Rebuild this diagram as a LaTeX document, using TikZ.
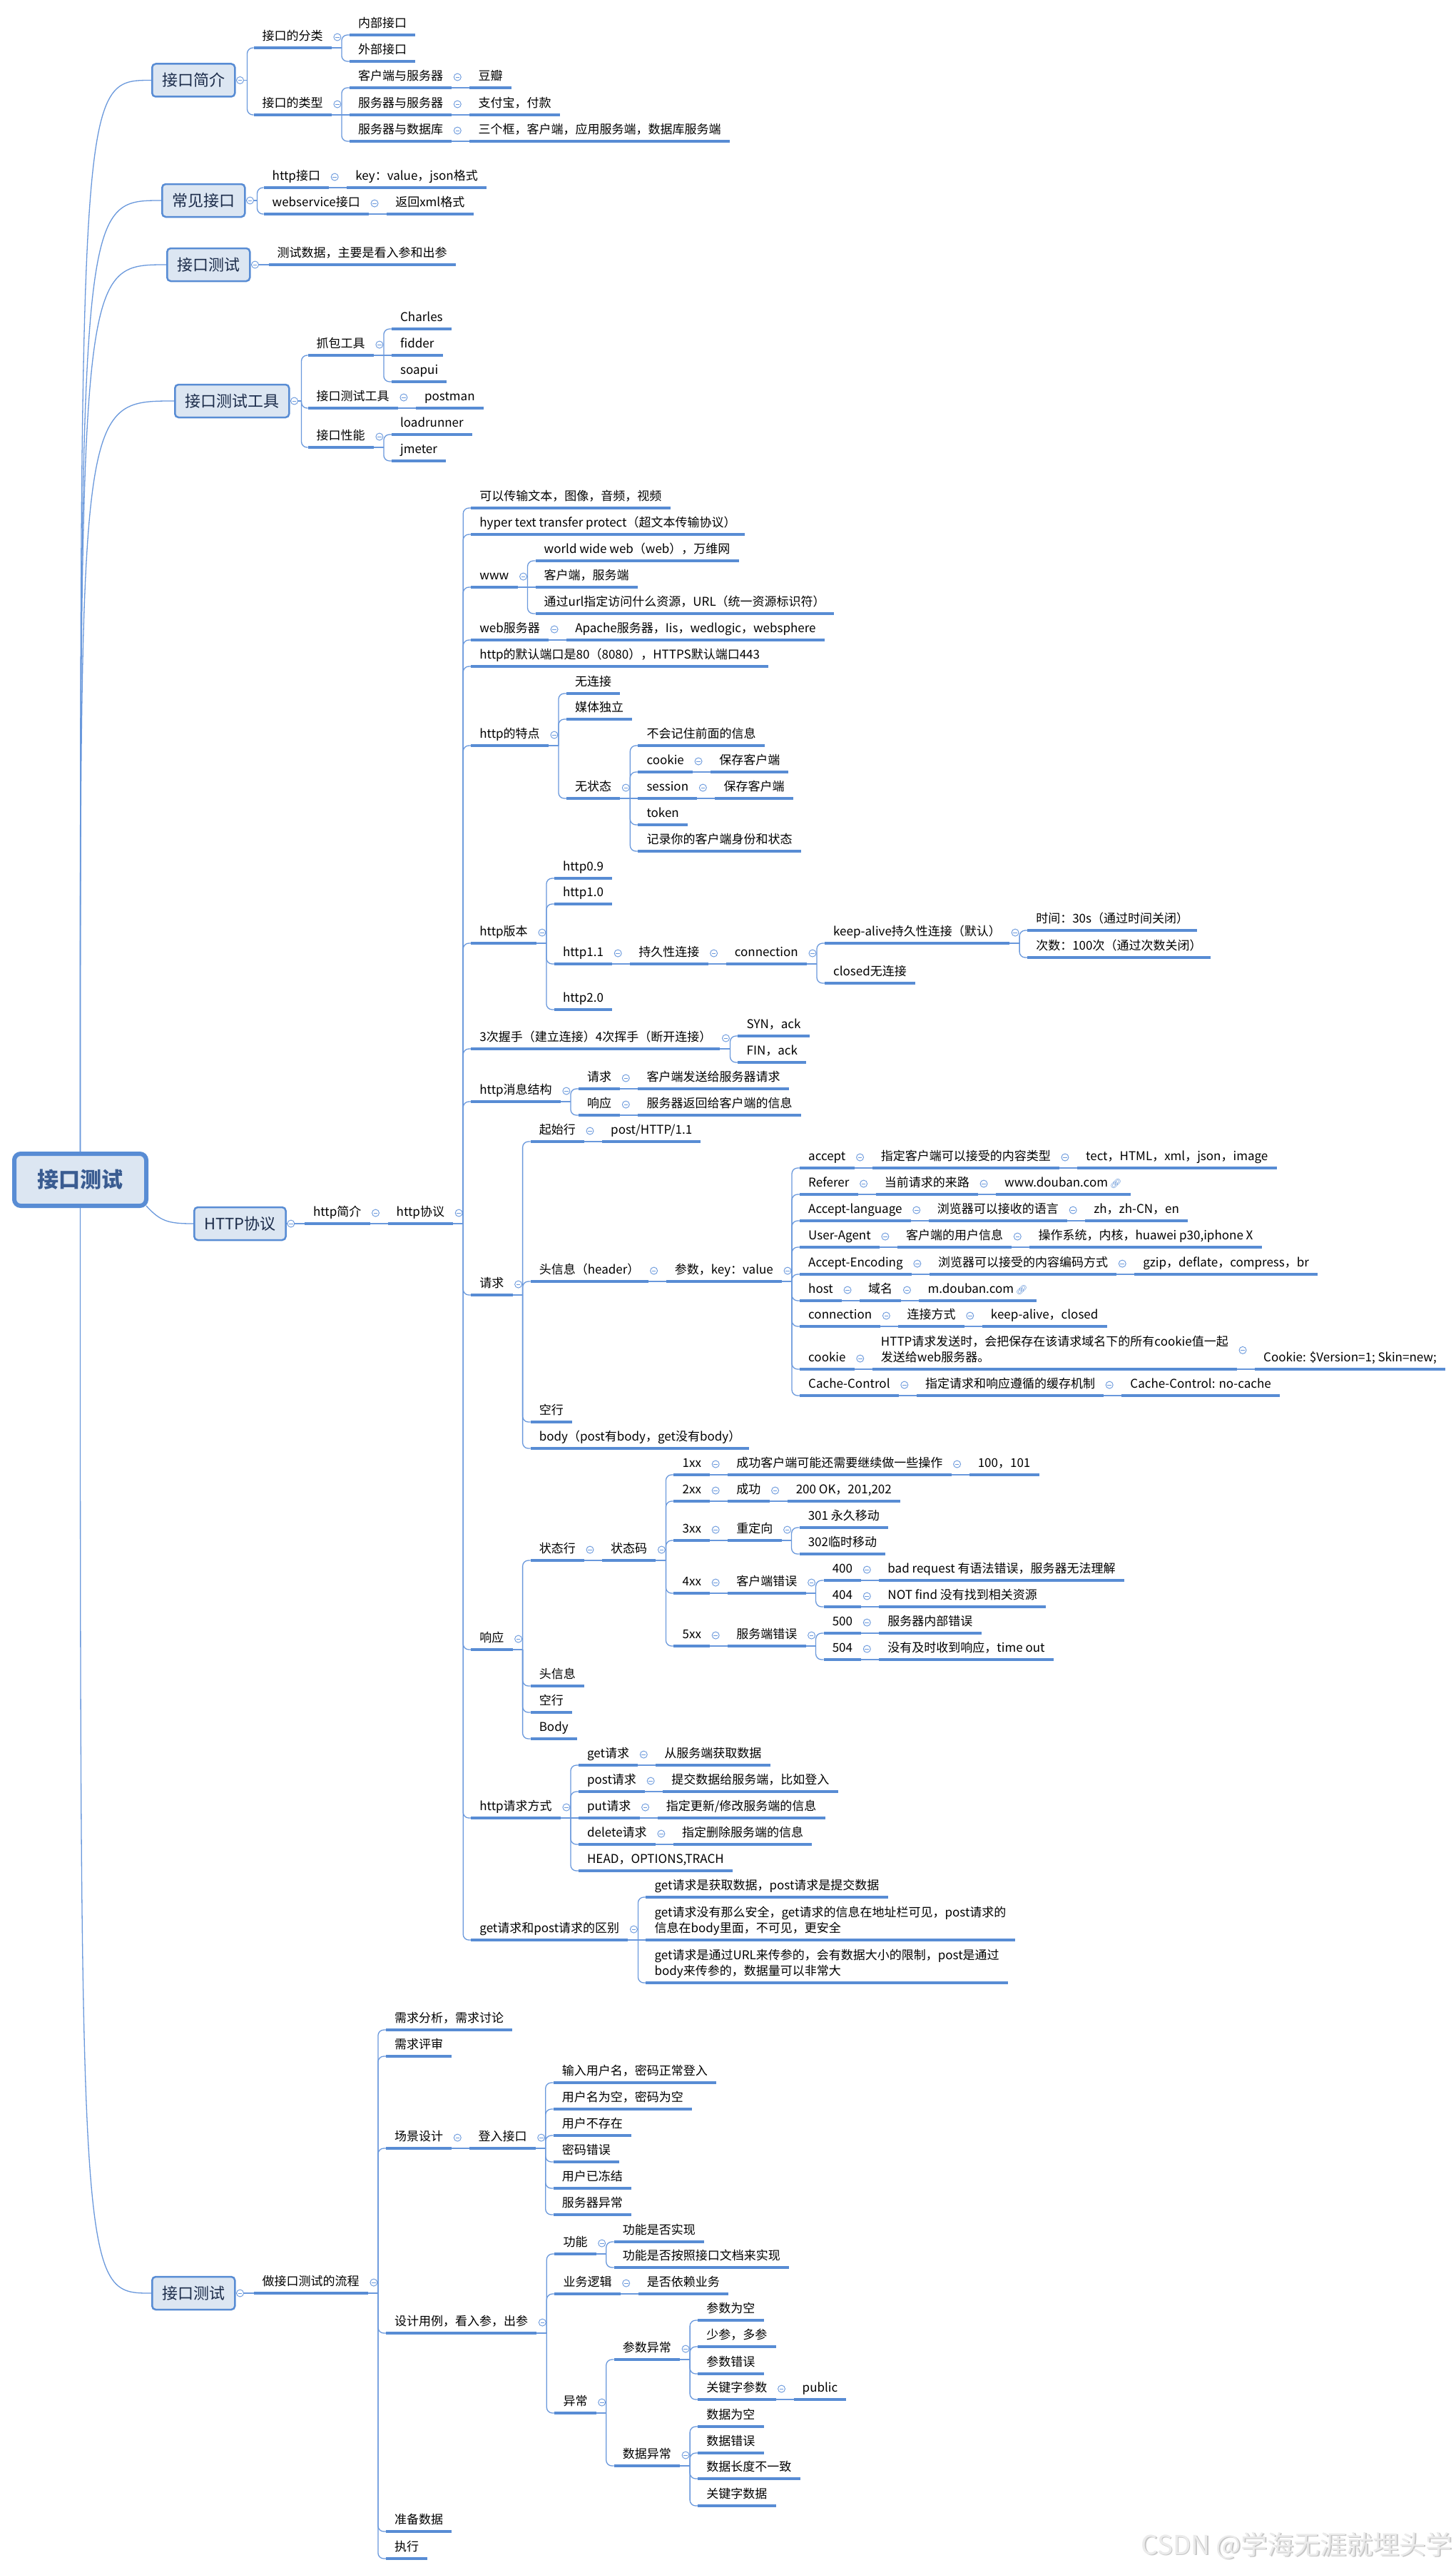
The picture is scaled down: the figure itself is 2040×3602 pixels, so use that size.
\documentclass[tikz,border=0pt]{standalone}
\usepackage{fontspec}
\setmainfont{Noto Sans CJK SC}
\newfontfamily\emoji{Noto Emoji}
\definecolor{ulc}{RGB}{88,140,212}
\definecolor{lnc}{RGB}{105,152,220}
\definecolor{boxfill}{RGB}{220,230,242}
\definecolor{boxtext}{RGB}{28,44,74}
\definecolor{roottext}{RGB}{58,92,145}
\newcommand\fsm{\fontsize{17pt}{22pt}\selectfont}
\newcommand\fbx{\fontsize{22pt}{26pt}\selectfont}
\newcommand\frt{\fontsize{30pt}{34pt}\selectfont\bfseries}
\newcommand\lnk{{\emoji\fontsize{13pt}{13pt}\selectfont\color{ulc}🔗}}
\tikzset{
 topic/.style={font=\fsm, text height=13pt, text depth=4.5pt, inner xsep=12pt, inner ysep=6pt, anchor=south west},
 topictwo/.style={font=\fsm, align=left, text depth=4.5pt, inner xsep=12pt, inner ysep=6pt, anchor=south west},
 conn/.style={draw=lnc, line width=1.3pt},
 uline/.style={draw=ulc, line width=3.5pt},
 box/.style={draw=ulc, line width=2.5pt, fill=boxfill, rounded corners=5pt, font=\fbx, text=boxtext, inner xsep=14pt, minimum height=46pt, anchor=west},
 rootbox/.style={draw=ulc, line width=6pt, fill=boxfill, rounded corners=9pt, font=\frt, text=roottext, minimum width=185pt, minimum height=73pt},
 collapse/.style={circle, draw=lnc, fill=white, line width=0.9pt, minimum size=10pt, inner sep=0pt,
   path picture={\draw[lnc, line width=0.9pt] ([xshift=-2.8pt]path picture bounding box.center) -- ([xshift=2.8pt]path picture bounding box.center);}}
}
\newcommand\kid[5][topic]{%
  \path (#3.east) ++(25pt,0pt) coordinate (#2-o);
  \node[#1] (#2) at (#2-o |- 0,#4) {#5};
  \draw[uline] (#2.south west) -- (#2.south east);
}
\newcommand\spine[1]{%
  \draw[conn] (#1.south east) -- ++(14pt,0pt) coordinate (#1-s);
  \node[collapse] at ([xshift=8pt]#1.east) {};
}
\newcommand\bspine[1]{%
  \draw[conn] (#1.east) -- ++(16pt,0pt) coordinate (#1-s);
  \node[collapse] at ([xshift=6pt]#1.east) {};
}
\newcommand\ed[2]{\draw[conn, rounded corners=8pt] (#1-s) |- (#2.south west);}
\newcommand\sed[2]{\draw[conn] (#1-s) -- (#2.south west);}
\newcommand\chain[2]{\spine{#1}\sed{#1}{#2}}
\begin{document}
\begin{tikzpicture}[x=1pt,y=-1pt]
\fill[white] (0,0) rectangle (2040,3602);
\useasboundingbox (0,0) rectangle (2040,3602);

% root and main branches
\node[rootbox] (root) at (112.5,1653.5) {接口测试};
\node[box] (b1) at (212,112.5) {接口简介};
\node[box] (b2) at (226,281) {常见接口};
\node[box] (b3) at (233,371) {接口测试};
\node[box] (b4) at (244,562) {接口测试工具};
\node[box] (b5) at (271,1715) {HTTP协议};
\node[box] (b6) at (212,3214) {接口测试};

\draw[conn] (root.north) .. controls (root.north |- b1.west) .. (b1.west);
\draw[conn] (root.north) .. controls (root.north |- b2.west) .. (b2.west);
\draw[conn] (root.north) .. controls (root.north |- b3.west) .. (b3.west);
\draw[conn] (root.north) .. controls (root.north |- b4.west) .. (b4.west);
\draw[conn] (root.south) .. controls (root.south |- b6.west) .. (b6.west);
\draw[conn] ([xshift=-3pt,yshift=3pt]root.south east) .. controls +(20,22) and +(-35,0) .. (b5.west);

% 接口简介
\kid{a1}{b1}{67}{接口的分类}
\kid{a2}{b1}{161}{接口的类型}
\kid{a11}{a1}{49}{内部接口}
\kid{a12}{a1}{86}{外部接口}
\kid{a21}{a2}{123}{客户端与服务器}
\kid{a22}{a2}{161}{服务器与服务器}
\kid{a23}{a2}{198}{服务器与数据库}
\kid{a211}{a21}{123}{豆瓣}
\kid{a221}{a22}{161}{支付宝，付款}
\kid{a231}{a23}{198}{三个框，客户端，应用服务端，数据库服务端}

% 常见接口
\kid{c1}{b2}{263}{http接口}
\kid{c2}{b2}{300}{webservice接口}
\kid{c11}{c1}{263}{key：value，json格式}
\kid{c21}{c2}{300}{返回xml格式}

% 接口测试
\kid{d1}{b3}{371}{测试数据，主要是看入参和出参}

% 接口测试工具
\kid{e1}{b4}{498}{抓包工具}
\kid{e2}{b4}{572}{接口测试工具}
\kid{e3}{b4}{627}{接口性能}
\kid{e11}{e1}{461}{Charles}
\kid{e12}{e1}{498}{fidder}
\kid{e13}{e1}{535}{soapui}
\kid{e21}{e2}{572}{postman}
\kid{e31}{e3}{609}{loadrunner}
\kid{e32}{e3}{646}{jmeter}

% HTTP协议
\kid{h0}{b5}{1715}{http简介}
\kid{h}{h0}{1715}{http协议}
\kid{h1}{h}{712}{可以传输文本，图像，音频，视频}
\kid{h2}{h}{749}{hyper text transfer protect（超文本传输协议）}
\kid{h3}{h}{823}{www}
\kid{h31}{h3}{786}{world wide web（web），万维网}
\kid{h32}{h3}{823}{客户端，服务端}
\kid{h33}{h3}{860}{通过url指定访问什么资源，URL（统一资源标识符）}
\kid{h4}{h}{897}{web服务器}
\kid{h41}{h4}{897}{Apache服务器，Iis，wedlogic，websphere}
\kid{h5}{h}{934}{http的默认端口是80（8080），HTTPS默认端口443}
\kid{h6}{h}{1045}{http的特点}
\kid{h61}{h6}{972}{无连接}
\kid{h62}{h6}{1008}{媒体独立}
\kid{h63}{h6}{1119}{无状态}
\kid{h631}{h63}{1045}{不会记住前面的信息}
\kid{h632}{h63}{1082}{cookie}
\kid{h6321}{h632}{1082}{保存客户端}
\kid{h633}{h63}{1119}{session}
\kid{h6331}{h633}{1119}{保存客户端}
\kid{h634}{h63}{1156}{token}
\kid{h635}{h63}{1193}{记录你的客户端身份和状态}
\kid{h7}{h}{1322}{http版本}
\kid{h71}{h7}{1231}{http0.9}
\kid{h72}{h7}{1267}{http1.0}
\kid{h73}{h7}{1351}{http1.1}
\kid{h731}{h73}{1351}{持久性连接}
\kid{h7311}{h731}{1351}{connection}
\kid{k1}{h7311}{1322}{keep-alive持久性连接（默认）}
\kid{k11}{k1}{1304}{时间：30s（通过时间关闭）}
\kid{k12}{k1}{1342}{次数：100次（通过次数关闭）}
\kid{k2}{h7311}{1378}{closed无连接}
\kid{h74}{h7}{1415}{http2.0}
\kid{h8}{h}{1470}{3次握手（建立连接）4次挥手（断开连接）}
\kid{h81}{h8}{1452}{SYN，ack}
\kid{h82}{h8}{1489}{FIN，ack}
\kid{h9}{h}{1544}{http消息结构}
\kid{h91}{h9}{1526}{请求}
\kid{h911}{h91}{1526}{客户端发送给服务器请求}
\kid{h92}{h9}{1563}{响应}
\kid{h921}{h92}{1563}{服务器返回给客户端的信息}
\kid{q}{h}{1815}{请求}
\kid{q1}{q}{1600}{起始行}
\kid{q11}{q1}{1600}{post/HTTP/1.1}
\kid{q2}{q}{1796}{头信息（header）}
\kid{q21}{q2}{1796}{参数，key：value}
\kid{r1}{q21}{1637}{accept}
\kid{r1a}{r1}{1637}{指定客户端可以接受的内容类型}
\kid{r1b}{r1a}{1637}{tect，HTML，xml，json，image}
\kid{r2}{q21}{1674}{Referer}
\kid{r2a}{r2}{1674}{当前请求的来路}
\kid{r2b}{r2a}{1674}{www.douban.com\,\lnk}
\kid{r3}{q21}{1711}{Accept-language}
\kid{r3a}{r3}{1711}{浏览器可以接收的语言}
\kid{r3b}{r3a}{1711}{zh，zh-CN，en}
\kid{r4}{q21}{1748}{User-Agent}
\kid{r4a}{r4}{1748}{客户端的用户信息}
\kid{r4b}{r4a}{1748}{操作系统，内核，huawei p30,iphone X}
\kid{r5}{q21}{1786}{Accept-Encoding}
\kid{r5a}{r5}{1786}{浏览器可以接受的内容编码方式}
\kid{r5b}{r5a}{1786}{gzip，deflate，compress，br}
\kid{r6}{q21}{1823}{host}
\kid{r6a}{r6}{1823}{域名}
\kid{r6b}{r6a}{1823}{m.douban.com\,\lnk}
\kid{r7}{q21}{1859}{connection}
\kid{r7a}{r7}{1859}{连接方式}
\kid{r7b}{r7a}{1859}{keep-alive，closed}
\kid{r8}{q21}{1919}{cookie}
\kid[topictwo]{r8a}{r8}{1919}{HTTP请求发送时，会把保存在该请求域名下的所有cookie值一起\\发送给web服务器。}
\kid{r8b}{r8a}{1919}{Cookie: \$Version=1; Skin=new;}
\kid{r9}{q21}{1956}{Cache-Control}
\kid{r9a}{r9}{1956}{指定请求和响应遵循的缓存机制}
\kid{r9b}{r9a}{1956}{Cache-Control: no-cache}
\kid{q3}{q}{1993}{空行}
\kid{q4}{q}{2030}{body（post有body，get没有body）}
\kid{s}{h}{2312}{响应}
\kid{s1}{s}{2187}{状态行}
\kid{s11}{s1}{2187}{状态码}
\kid{t1}{s11}{2067}{1xx}
\kid{t1a}{t1}{2067}{成功客户端可能还需要继续做一些操作}
\kid{t1b}{t1a}{2067}{100，101}
\kid{t2}{s11}{2104}{2xx}
\kid{t2a}{t2}{2104}{成功}
\kid{t2b}{t2a}{2104}{200 OK，201,202}
\kid{t3}{s11}{2159}{3xx}
\kid{t3a}{t3}{2159}{重定向}
\kid{t3b}{t3a}{2141}{301 永久移动}
\kid{t3c}{t3a}{2178}{302临时移动}
\kid{t4}{s11}{2233}{4xx}
\kid{t4a}{t4}{2233}{客户端错误}
\kid{t4b}{t4a}{2215}{400}
\kid{t4bb}{t4b}{2215}{bad request 有语法错误，服务器无法理解}
\kid{t4c}{t4a}{2252}{404}
\kid{t4cc}{t4c}{2252}{NOT find 没有找到相关资源}
\kid{t5}{s11}{2307}{5xx}
\kid{t5a}{t5}{2307}{服务端错误}
\kid{t5b}{t5a}{2289}{500}
\kid{t5bb}{t5b}{2289}{服务器内部错误}
\kid{t5c}{t5a}{2326}{504}
\kid{t5cc}{t5c}{2326}{没有及时收到响应，time out}
\kid{s2}{s}{2363}{头信息}
\kid{s3}{s}{2400}{空行}
\kid{s4}{s}{2437}{Body}
\kid{m}{h}{2548}{http请求方式}
\kid{m1}{m}{2474}{get请求}
\kid{m1a}{m1}{2474}{从服务端获取数据}
\kid{m2}{m}{2511}{post请求}
\kid{m2a}{m2}{2511}{提交数据给服务端，比如登入}
\kid{m3}{m}{2548}{put请求}
\kid{m3a}{m3}{2548}{指定更新/修改服务端的信息}
\kid{m4}{m}{2585}{delete请求}
\kid{m4a}{m4}{2585}{指定删除服务端的信息}
\kid{m5}{m}{2622}{HEAD，OPTIONS,TRACH}
\kid{g}{h}{2719}{get请求和post请求的区别}
\kid{g1}{g}{2659}{get请求是获取数据，post请求是提交数据}
\kid[topictwo]{g2}{g}{2719}{get请求没有那么安全，get请求的信息在地址栏可见，post请求的\\信息在body里面，不可见，更安全}
\kid[topictwo]{g3}{g}{2779}{get请求是通过URL来传参的，会有数据大小的限制，post是通过\\body来传参的，数据量可以非常大}

% 接口测试 (bottom)
\kid{w}{b6}{3214}{做接口测试的流程}
\kid{w1}{w}{2845}{需求分析，需求讨论}
\kid{w2}{w}{2882}{需求评审}
\kid{w3}{w}{3011}{场景设计}
\kid{w3a}{w3}{3011}{登入接口}
\kid{w3a1}{w3a}{2919}{输入用户名，密码正常登入}
\kid{w3a2}{w3a}{2956}{用户名为空，密码为空}
\kid{w3a3}{w3a}{2993}{用户不存在}
\kid{w3a4}{w3a}{3030}{密码错误}
\kid{w3a5}{w3a}{3067}{用户已冻结}
\kid{w3a6}{w3a}{3104}{服务器异常}
\kid{w4}{w}{3270}{设计用例，看入参，出参}
\kid{x1}{w4}{3159}{功能}
\kid{x1a}{x1}{3142}{功能是否实现}
\kid{x1b}{x1}{3178}{功能是否按照接口文档来实现}
\kid{x2}{w4}{3215}{业务逻辑}
\kid{x2a}{x2}{3215}{是否依赖业务}
\kid{x3}{w4}{3382}{异常}
\kid{y1}{x3}{3307}{参数异常}
\kid{y1a}{y1}{3252}{参数为空}
\kid{y1b}{y1}{3289}{少参，多参}
\kid{y1c}{y1}{3327}{参数错误}
\kid{y1d}{y1}{3363}{关键字参数}
\kid{y1e}{y1d}{3363}{public}
\kid{y2}{x3}{3456}{数据异常}
\kid{y2a}{y2}{3401}{数据为空}
\kid{y2b}{y2}{3438}{数据错误}
\kid{y2c}{y2}{3474}{数据长度不一致}
\kid{y2d}{y2}{3512}{关键字数据}
\kid{w5}{w}{3548}{准备数据}
\kid{w6}{w}{3586}{执行}

% ---------- connectors ----------
\bspine{b1}\ed{b1}{a1}\ed{b1}{a2}
\spine{a1}\ed{a1}{a11}\ed{a1}{a12}
\spine{a2}\ed{a2}{a21}\sed{a2}{a22}\ed{a2}{a23}
\chain{a21}{a211}\chain{a22}{a221}\chain{a23}{a231}
\bspine{b2}\ed{b2}{c1}\ed{b2}{c2}
\chain{c1}{c11}\chain{c2}{c21}
\bspine{b3}\sed{b3}{d1}
\bspine{b4}\ed{b4}{e1}\ed{b4}{e2}\ed{b4}{e3}
\spine{e1}\ed{e1}{e11}\sed{e1}{e12}\ed{e1}{e13}
\chain{e2}{e21}
\spine{e3}\ed{e3}{e31}\ed{e3}{e32}
\bspine{b5}\sed{b5}{h0}
\chain{h0}{h}
\spine{h}\ed{h}{h1}\ed{h}{h2}\ed{h}{h3}\ed{h}{h4}\ed{h}{h5}\ed{h}{h6}\ed{h}{h7}\ed{h}{h8}\ed{h}{h9}\ed{h}{q}\ed{h}{s}\ed{h}{m}\ed{h}{g}
\spine{h3}\ed{h3}{h31}\sed{h3}{h32}\ed{h3}{h33}
\chain{h4}{h41}
\spine{h6}\ed{h6}{h61}\ed{h6}{h62}\ed{h6}{h63}
\spine{h63}\ed{h63}{h631}\ed{h63}{h632}\sed{h63}{h633}\ed{h63}{h634}\ed{h63}{h635}
\chain{h632}{h6321}\chain{h633}{h6331}
\spine{h7}\ed{h7}{h71}\ed{h7}{h72}\ed{h7}{h73}\ed{h7}{h74}
\chain{h73}{h731}\chain{h731}{h7311}
\spine{h7311}\ed{h7311}{k1}\ed{h7311}{k2}
\spine{k1}\ed{k1}{k11}\ed{k1}{k12}
\spine{h8}\ed{h8}{h81}\ed{h8}{h82}
\spine{h9}\ed{h9}{h91}\ed{h9}{h92}
\chain{h91}{h911}\chain{h92}{h921}
\spine{q}\ed{q}{q1}\ed{q}{q2}\ed{q}{q3}\ed{q}{q4}
\chain{q1}{q11}\chain{q2}{q21}
\spine{q21}\ed{q21}{r1}\ed{q21}{r2}\ed{q21}{r3}\ed{q21}{r4}\ed{q21}{r5}\ed{q21}{r6}\ed{q21}{r7}\ed{q21}{r8}\ed{q21}{r9}
\chain{r1}{r1a}\chain{r1a}{r1b}
\chain{r2}{r2a}\chain{r2a}{r2b}
\chain{r3}{r3a}\chain{r3a}{r3b}
\chain{r4}{r4a}\chain{r4a}{r4b}
\chain{r5}{r5a}\chain{r5a}{r5b}
\chain{r6}{r6a}\chain{r6a}{r6b}
\chain{r7}{r7a}\chain{r7a}{r7b}
\chain{r8}{r8a}\chain{r8a}{r8b}
\chain{r9}{r9a}\chain{r9a}{r9b}
\spine{s}\ed{s}{s1}\ed{s}{s2}\ed{s}{s3}\ed{s}{s4}
\chain{s1}{s11}
\spine{s11}\ed{s11}{t1}\ed{s11}{t2}\ed{s11}{t3}\ed{s11}{t4}\ed{s11}{t5}
\chain{t1}{t1a}\chain{t1a}{t1b}
\chain{t2}{t2a}\chain{t2a}{t2b}
\chain{t3}{t3a}\spine{t3a}\ed{t3a}{t3b}\ed{t3a}{t3c}
\chain{t4}{t4a}\spine{t4a}\ed{t4a}{t4b}\ed{t4a}{t4c}\chain{t4b}{t4bb}\chain{t4c}{t4cc}
\chain{t5}{t5a}\spine{t5a}\ed{t5a}{t5b}\ed{t5a}{t5c}\chain{t5b}{t5bb}\chain{t5c}{t5cc}
\spine{m}\ed{m}{m1}\ed{m}{m2}\sed{m}{m3}\ed{m}{m4}\ed{m}{m5}
\chain{m1}{m1a}\chain{m2}{m2a}\chain{m3}{m3a}\chain{m4}{m4a}
\spine{g}\ed{g}{g1}\sed{g}{g2}\ed{g}{g3}
\bspine{b6}\sed{b6}{w}
\spine{w}\ed{w}{w1}\ed{w}{w2}\ed{w}{w3}\ed{w}{w4}\ed{w}{w5}\ed{w}{w6}
\chain{w3}{w3a}
\spine{w3a}\ed{w3a}{w3a1}\ed{w3a}{w3a2}\ed{w3a}{w3a3}\ed{w3a}{w3a4}\ed{w3a}{w3a5}\ed{w3a}{w3a6}
\spine{w4}\ed{w4}{x1}\ed{w4}{x2}\ed{w4}{x3}
\spine{x1}\ed{x1}{x1a}\ed{x1}{x1b}
\chain{x2}{x2a}
\spine{x3}\ed{x3}{y1}\ed{x3}{y2}
\spine{y1}\ed{y1}{y1a}\ed{y1}{y1b}\ed{y1}{y1c}\ed{y1}{y1d}
\chain{y1d}{y1e}
\spine{y2}\ed{y2}{y2a}\ed{y2}{y2b}\ed{y2}{y2c}\ed{y2}{y2d}

% watermark
\node[anchor=base east, inner sep=0pt, font=\fontsize{37pt}{40pt}\selectfont, text=black!22] (wm0) at (2037.5,3581.5) {CSDN @学海无涯就埋头学};
\node[anchor=base east, inner sep=0pt, font=\fontsize{37pt}{40pt}\selectfont, text=black!8] (wm) at (2036,3580) {CSDN @学海无涯就埋头学};
\end{tikzpicture}
\end{document}
